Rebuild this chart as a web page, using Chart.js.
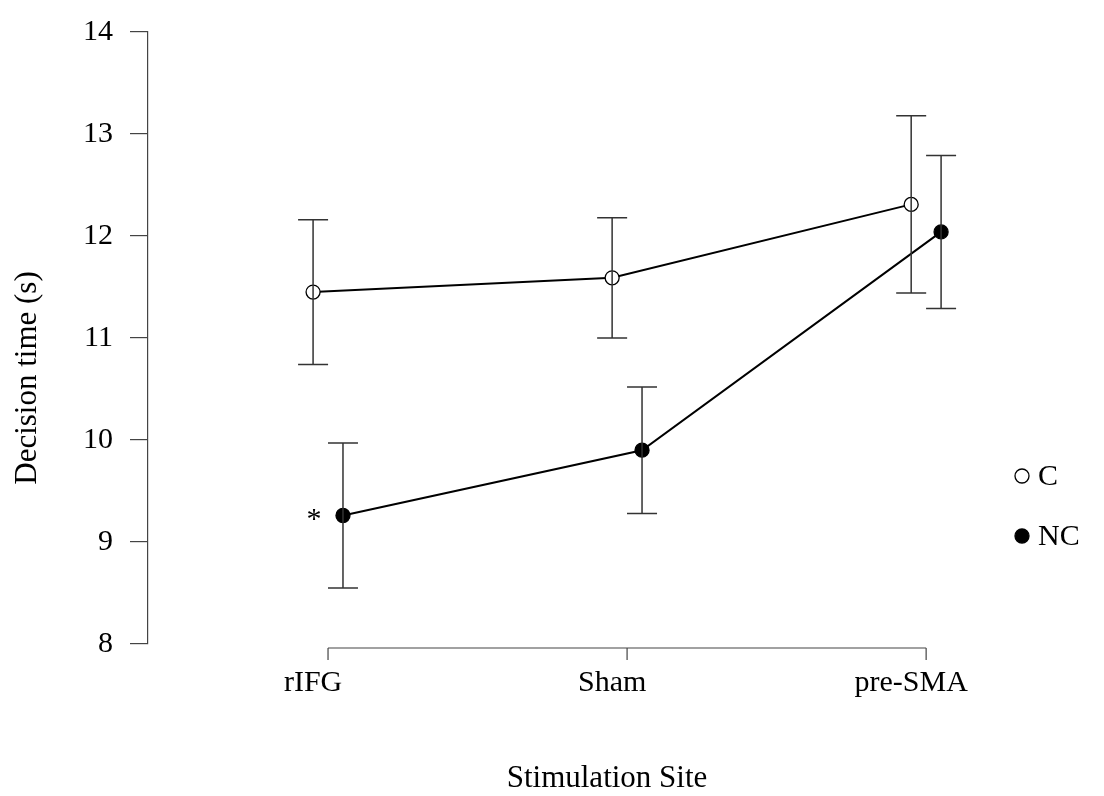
<!DOCTYPE html>
<html>
<head>
<meta charset="utf-8">
<script src="https://cdn.jsdelivr.net/npm/chart.js@4"></script>
<style>
  html, body { margin: 0; padding: 0; background: #fff; }
  #wrap { width: 1104px; height: 796px; position: relative; }
</style>
</head>
<body>
<div id="wrap"><canvas id="chart" width="1104" height="796"></canvas></div>
<script>
// data
const sites = ['rIFG', 'Sham', 'pre-SMA'];
const cMeans = [11.45, 11.59, 12.31];
const cErr = [0.71, 0.59, 0.87];
const ncMeans = [9.26, 9.90, 12.04];
const ncErr = [0.71, 0.62, 0.75];
const yTicks = [8, 9, 10, 11, 12, 13, 14];
const sigMark = ['*', '', ''];   // NC significance marks

const FONT = "'Liberation Serif', 'Times New Roman', serif";
const SHIFT = 0.05; // side offset so the two series don't overlap

const toPts = (means, dx) => means.map((v, i) => ({ x: i + dx, y: v }));

// error bars, asterisk, axis titles, custom x axis and legend
const extras = {
  id: 'extras',
  afterDatasetsDraw(chart) {
    const ctx = chart.ctx;
    const xs = chart.scales.x, ys = chart.scales.y;
    ctx.save();
    ctx.strokeStyle = '#333';
    ctx.lineWidth = 1.5;
    const bars = [[cMeans, cErr, -SHIFT], [ncMeans, ncErr, SHIFT]];
    bars.forEach(([m, e, dx]) => {
      m.forEach((v, i) => {
        const px = xs.getPixelForValue(i + dx);
        const top = ys.getPixelForValue(v + e[i]);
        const bot = ys.getPixelForValue(v - e[i]);
        ctx.beginPath();
        ctx.moveTo(px, top); ctx.lineTo(px, bot);
        ctx.moveTo(px - 15, top); ctx.lineTo(px + 15, top);
        ctx.moveTo(px - 15, bot); ctx.lineTo(px + 15, bot);
        ctx.stroke();
      });
    });
    ctx.restore();
  },
  afterDraw(chart) {
    const ctx = chart.ctx;
    const xs = chart.scales.x, ys = chart.scales.y;
    const area = chart.chartArea;
    ctx.save();
    ctx.fillStyle = '#000';
    ctx.textBaseline = 'middle';

    // significance marks
    ctx.font = '30px ' + FONT;
    ctx.textAlign = 'center';
    sigMark.forEach((s, i) => {
      if (!s) return;
      ctx.fillText(s, xs.getPixelForValue(i + SHIFT) - 29, ys.getPixelForValue(ncMeans[i]) + 5);
    });

    // axis titles
    ctx.font = '31px ' + FONT;
    ctx.fillText('Stimulation Site', 607, 779);
    ctx.save();
    ctx.translate(28, 378);
    ctx.rotate(-Math.PI / 2);
    ctx.fillText('Decision time (s)', 0, 0);
    ctx.restore();

    // bottom axis spanning only the categories
    const ay = area.bottom + 4;
    const x0 = xs.getPixelForValue(0), x1 = xs.getPixelForValue(sites.length - 1);
    ctx.strokeStyle = '#444';
    ctx.lineWidth = 1.2;
    ctx.beginPath();
    ctx.moveTo(x0, ay); ctx.lineTo(x1, ay);
    sites.forEach((s, i) => {
      const px = xs.getPixelForValue(i);
      ctx.moveTo(px, ay); ctx.lineTo(px, ay + 12);
    });
    ctx.stroke();

    // legend
    const lx = 1022;
    chart.data.datasets.forEach((ds, k) => {
      const ly = 476 + k * 60;
      ctx.beginPath();
      ctx.arc(lx, ly, 7, 0, Math.PI * 2);
      ctx.fillStyle = ds.pointBackgroundColor;
      ctx.fill();
      ctx.lineWidth = 1.3;
      ctx.strokeStyle = '#000';
      ctx.stroke();
      ctx.fillStyle = '#000';
      ctx.textAlign = 'left';
      ctx.font = '30px ' + FONT;
      ctx.fillText(ds.label, lx + 16, ly + 1);
    });
    ctx.restore();
  }
};

new Chart(document.getElementById('chart'), {
  type: 'line',
  data: {
    datasets: [
      {
        label: 'C',
        data: toPts(cMeans, -SHIFT),
        borderColor: '#000',
        borderWidth: 2,
        pointRadius: 7,
        pointBorderWidth: 1.3,
        pointBackgroundColor: '#fff',
        pointBorderColor: '#000'
      },
      {
        label: 'NC',
        data: toPts(ncMeans, SHIFT),
        borderColor: '#000',
        borderWidth: 2,
        pointRadius: 7,
        pointBorderWidth: 1.3,
        pointBackgroundColor: '#000',
        pointBorderColor: '#000'
      }
    ]
  },
  options: {
    responsive: false,
    animation: false,
    devicePixelRatio: 1,
    layout: { padding: { top: 32, right: 104, bottom: 0, left: 0 } },
    plugins: { legend: { display: false }, tooltip: { enabled: false } },
    scales: {
      x: {
        type: 'linear',
        min: -0.602,
        max: 2.247,
        // labels sit under the C markers, as in the figure
        afterBuildTicks(scale) {
          scale.ticks = sites.map((s, i) => ({ value: i - SHIFT }));
        },
        afterFit(scale) {
          scale.height = 152;
          scale.paddingLeft = 0;
          scale.paddingRight = 0;
        },
        grid: { display: false, drawTicks: false },
        border: { display: false },
        ticks: {
          padding: 21,
          color: '#000',
          font: { family: FONT, size: 30 },
          callback: v => sites[Math.round(v + SHIFT)]
        }
      },
      y: {
        min: 8,
        max: 14,
        afterBuildTicks(scale) {
          scale.ticks = yTicks.map(v => ({ value: v }));
        },
        afterFit(scale) {
          scale.width = 148;
          scale.paddingTop = 0;
          scale.paddingBottom = 0;
        },
        grid: {
          drawOnChartArea: false,
          tickLength: 18,
          color: '#444',
          lineWidth: 1.2
        },
        border: { display: true, color: '#444', width: 1.2 },
        ticks: {
          padding: 17,
          color: '#000',
          font: { family: FONT, size: 30 }
        }
      }
    }
  },
  plugins: [extras]
});
</script>
</body>
</html>
